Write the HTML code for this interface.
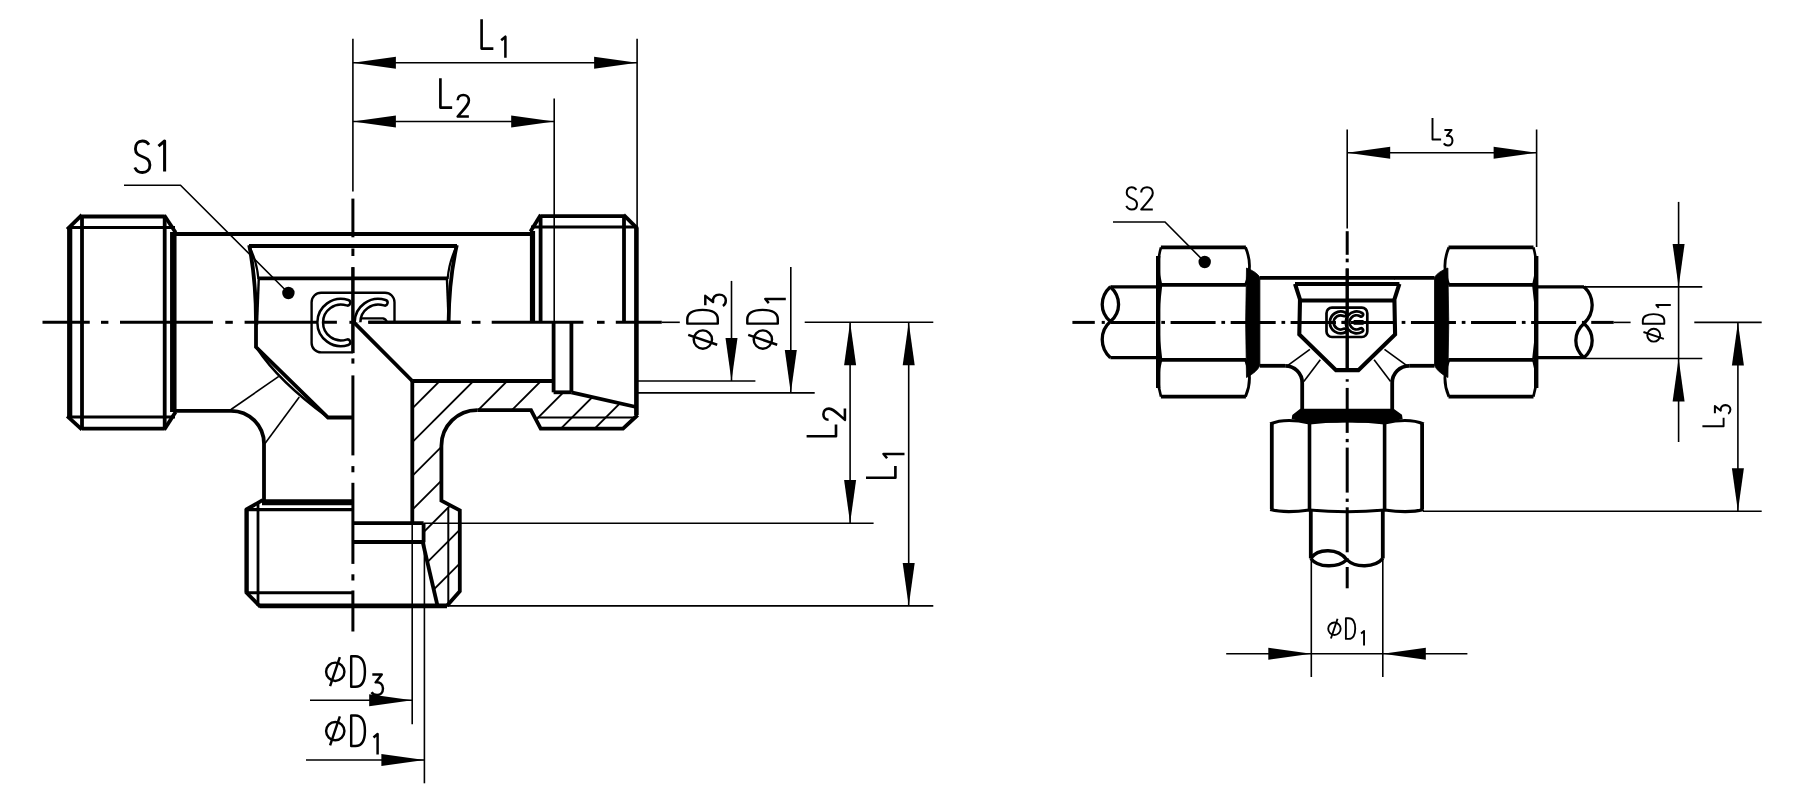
<!DOCTYPE html>
<html><head><meta charset="utf-8"><title>T-fitting drawing</title>
<style>html,body{margin:0;padding:0;background:#fff;}body{width:1804px;height:804px;overflow:hidden;font-family:"Liberation Sans",sans-serif;}svg{display:block;}</style>
</head><body>
<svg width="1804" height="804" viewBox="0 0 1804 804" fill="none" stroke="#000"><line x1="42.5" y1="322.3" x2="89.75" y2="322.3" stroke-width="3" stroke-linecap="butt"/>
<line x1="101" y1="322.3" x2="108.4" y2="322.3" stroke-width="3" stroke-linecap="butt"/>
<line x1="120" y1="322.3" x2="212.9" y2="322.3" stroke-width="3" stroke-linecap="butt"/>
<line x1="225.3" y1="322.3" x2="232.8" y2="322.3" stroke-width="3" stroke-linecap="butt"/>
<line x1="244.6" y1="322.3" x2="336.9" y2="322.3" stroke-width="3" stroke-linecap="butt"/>
<line x1="349.4" y1="322.3" x2="353" y2="322.3" stroke-width="3" stroke-linecap="butt"/>
<line x1="368.3" y1="322.3" x2="460.6" y2="322.3" stroke-width="3" stroke-linecap="butt"/>
<line x1="471.8" y1="322.3" x2="480.5" y2="322.3" stroke-width="3" stroke-linecap="butt"/>
<line x1="491.7" y1="322.3" x2="583.4" y2="322.3" stroke-width="3" stroke-linecap="butt"/>
<line x1="597" y1="322.3" x2="604.6" y2="322.3" stroke-width="3" stroke-linecap="butt"/>
<line x1="615.8" y1="322.3" x2="661.8" y2="322.3" stroke-width="3" stroke-linecap="butt"/>
<line x1="661.8" y1="322.3" x2="679.8" y2="322.3" stroke-width="1.6" stroke-linecap="butt"/>
<line x1="352.9" y1="198.6" x2="352.9" y2="237.3" stroke-width="3" stroke-linecap="butt"/>
<line x1="352.9" y1="248.5" x2="352.9" y2="256" stroke-width="3" stroke-linecap="butt"/>
<line x1="352.9" y1="267.2" x2="352.9" y2="353.1" stroke-width="3" stroke-linecap="butt"/>
<line x1="352.9" y1="358.4" x2="352.9" y2="363.6" stroke-width="3" stroke-linecap="butt"/>
<line x1="352.9" y1="375.4" x2="352.9" y2="455.4" stroke-width="3" stroke-linecap="butt"/>
<line x1="352.9" y1="466.1" x2="352.9" y2="472.3" stroke-width="3" stroke-linecap="butt"/>
<line x1="352.9" y1="482.8" x2="352.9" y2="563.9" stroke-width="3" stroke-linecap="butt"/>
<line x1="352.9" y1="574.3" x2="352.9" y2="580.5" stroke-width="3" stroke-linecap="butt"/>
<line x1="352.9" y1="590.5" x2="352.9" y2="631.5" stroke-width="3" stroke-linecap="butt"/>
<line x1="69.7" y1="229" x2="69.7" y2="417" stroke-width="5.2" stroke-linecap="butt"/>
<line x1="82" y1="216" x2="82" y2="429" stroke-width="3.8" stroke-linecap="butt"/>
<line x1="82" y1="216.5" x2="164.7" y2="216.5" stroke-width="3.8" stroke-linecap="butt"/>
<line x1="69" y1="227.5" x2="175" y2="227.5" stroke-width="3" stroke-linecap="butt"/>
<line x1="82" y1="428.6" x2="164.7" y2="428.6" stroke-width="3.8" stroke-linecap="butt"/>
<line x1="69" y1="417" x2="175" y2="417" stroke-width="3" stroke-linecap="butt"/>
<line x1="164.7" y1="216" x2="164.7" y2="429" stroke-width="3.8" stroke-linecap="butt"/>
<line x1="173.3" y1="232" x2="173.3" y2="412" stroke-width="6.5" stroke-linecap="butt"/>
<path d="M67.2,229.4 L82,214.8" stroke-width="3.8" stroke-linejoin="miter"/>
<path d="M67.2,416.2 L82,429.6" stroke-width="3.8" stroke-linejoin="miter"/>
<path d="M164.2,215.2 L175.6,232.5" stroke-width="3.8" stroke-linejoin="miter"/>
<path d="M164.2,429.6 L175.6,412" stroke-width="3.8" stroke-linejoin="miter"/>
<line x1="175" y1="234" x2="531" y2="234" stroke-width="3.8" stroke-linecap="butt"/>
<line x1="175" y1="410.8" x2="231" y2="410.8" stroke-width="3.8" stroke-linecap="butt"/>
<path d="M231,410.8 A33,33 0 0 1 264,443.8 L264,501" stroke-width="3.8" />
<line x1="231" y1="409.5" x2="278.8" y2="376.4" stroke-width="1.6" stroke-linecap="butt"/>
<line x1="265" y1="443.4" x2="299.3" y2="397" stroke-width="1.6" stroke-linecap="butt"/>
<line x1="249" y1="246" x2="457" y2="246" stroke-width="3.8" stroke-linecap="butt"/>
<line x1="258.2" y1="278.3" x2="447" y2="278.3" stroke-width="3.8" stroke-linecap="butt"/>
<path d="M249.2,245.2 Q256,280 256,322 L256,347 L328,417.5 L353,417.5" stroke-width="3.8" stroke-linejoin="miter"/>
<path d="M249.6,247 Q257,262 258.4,279" stroke-width="2.2" />
<path d="M256.8,348 Q278.4,381.1 327.5,417" stroke-width="2.4" />
<line x1="258.8" y1="278" x2="257" y2="325" stroke-width="2.4" stroke-linecap="butt"/>
<line x1="446.9" y1="278" x2="448.7" y2="322" stroke-width="2.4" stroke-linecap="butt"/>
<path d="M456.8,245.2 Q449,280 448.6,322.3" stroke-width="3.8" />
<path d="M456.3,247 Q449,262 447.6,279" stroke-width="2.2" />
<defs><clipPath id="ceclip"><path d="M300,280 L420,280 L420,322.3 L352.9,322.3 L352.9,360 L300,360 Z"/></clipPath></defs>
<g clip-path="url(#ceclip)">
<rect x="311.6" y="292.7" width="82.9" height="59.7" rx="9.5" ry="9.5" stroke-width="2.4"/>
<path d="M347.43,302.72 A20.8,20.8 0 1 0 347.43,342.28" stroke-width="8.2" stroke-linecap="round"/>
<path d="M347.43,302.72 A20.8,20.8 0 1 0 347.43,342.28" stroke="#fff" stroke-width="3.2" stroke-linecap="round"/>
<path d="M384.73,302.72 A20.8,20.8 0 1 0 384.73,342.28" stroke-width="8.2" stroke-linecap="round"/>
<path d="M384.73,302.72 A20.8,20.8 0 1 0 384.73,342.28" stroke="#fff" stroke-width="3.2" stroke-linecap="round"/>
</g>
<path d="M362,318.3 L383,318.3 Q386,319 387,322.3" stroke-width="2.3" />
<line x1="368.3" y1="322.3" x2="460.6" y2="322.3" stroke-width="3" stroke-linecap="butt"/>
<line x1="352.9" y1="267.2" x2="352.9" y2="353.1" stroke-width="3" stroke-linecap="butt"/>
<line x1="353.9" y1="322.4" x2="412.3" y2="381" stroke-width="3.8" stroke-linecap="butt"/>
<line x1="553.6" y1="322.3" x2="553.6" y2="392.3" stroke-width="3.8" stroke-linecap="butt"/>
<line x1="571.4" y1="322.3" x2="571.4" y2="392.3" stroke-width="3.8" stroke-linecap="butt"/>
<line x1="553.6" y1="392.3" x2="571.4" y2="392.3" stroke-width="3.8" stroke-linecap="butt"/>
<line x1="412.3" y1="381" x2="553.6" y2="381" stroke-width="3.8" stroke-linecap="butt"/>
<line x1="571.4" y1="392.3" x2="636.2" y2="407" stroke-width="3.8" stroke-linecap="butt"/>
<line x1="532.5" y1="231" x2="532.5" y2="322.3" stroke-width="5.2" stroke-linecap="butt"/>
<line x1="540.6" y1="216" x2="540.6" y2="322.3" stroke-width="3.8" stroke-linecap="butt"/>
<line x1="540.6" y1="216.2" x2="624" y2="216.2" stroke-width="3.8" stroke-linecap="butt"/>
<line x1="531" y1="227" x2="637" y2="227" stroke-width="3" stroke-linecap="butt"/>
<path d="M530.5,231.5 L540.8,214.8" stroke-width="3.8" stroke-linejoin="miter"/>
<path d="M623.6,214.8 L637.5,228.6" stroke-width="3.8" stroke-linejoin="miter"/>
<line x1="624" y1="216" x2="624" y2="322.3" stroke-width="3.8" stroke-linecap="butt"/>
<line x1="636.4" y1="228" x2="636.4" y2="415" stroke-width="4.6" stroke-linecap="butt"/>
<path d="M637.7,415 L623,428.6 L540.7,428.6 L531,410.1 L477.6,410.1" stroke-width="3.8" stroke-linejoin="miter"/>
<path d="M477.6,410.1 A35.8,35.8 0 0 0 441.4,445.9 L441.4,500.7 L459.8,510.4 L459.8,591.2 L447,605.8" stroke-width="3.8" stroke-linejoin="miter"/>
<line x1="259.9" y1="605.9" x2="447" y2="605.9" stroke-width="4.6" stroke-linecap="butt"/>
<line x1="412.3" y1="381" x2="412.3" y2="523.2" stroke-width="3.8" stroke-linecap="butt"/>
<line x1="352.9" y1="523.2" x2="423.6" y2="523.2" stroke-width="3.8" stroke-linecap="butt"/>
<line x1="352.9" y1="542" x2="423.6" y2="542" stroke-width="3.8" stroke-linecap="butt"/>
<line x1="423.6" y1="523.2" x2="423.6" y2="542" stroke-width="3.8" stroke-linecap="butt"/>
<line x1="422.7" y1="542" x2="437.5" y2="605.8" stroke-width="3.8" stroke-linecap="butt"/>
<line x1="537.5" y1="417.6" x2="636.4" y2="417.6" stroke-width="2" stroke-linecap="butt"/>
<line x1="448.3" y1="507.4" x2="448.3" y2="605.8" stroke-width="2" stroke-linecap="butt"/>
<defs><clipPath id="secclip"><path d="M412.3,381 L553.6,381 L553.6,392.3 L571.4,392.3 L636.2,407 L637.7,415 L623,428.6 L540.7,428.6 L531,410.1 L477.6,410.1 A35.8,35.8 0 0 0 441.4,445.9 L441.4,500.7 L459.8,510.4 L459.8,591.2 L447,605.8 L437.5,605.8 L422.7,542 L423.6,542 L423.6,523.2 L412.3,523.2 Z"/></clipPath></defs>
<g clip-path="url(#secclip)">
<line x1="380" y1="339.5" x2="680" y2="39.5" stroke-width="1.9" stroke-linecap="butt"/>
<line x1="380" y1="373.25" x2="680" y2="73.25" stroke-width="1.9" stroke-linecap="butt"/>
<line x1="380" y1="407" x2="680" y2="107" stroke-width="1.9" stroke-linecap="butt"/>
<line x1="380" y1="440.75" x2="680" y2="140.75" stroke-width="1.9" stroke-linecap="butt"/>
<line x1="380" y1="474.5" x2="680" y2="174.5" stroke-width="1.9" stroke-linecap="butt"/>
<line x1="380" y1="508.25" x2="680" y2="208.25" stroke-width="1.9" stroke-linecap="butt"/>
<line x1="380" y1="542" x2="680" y2="242" stroke-width="1.9" stroke-linecap="butt"/>
<line x1="380" y1="575.75" x2="680" y2="275.75" stroke-width="1.9" stroke-linecap="butt"/>
<line x1="380" y1="609.5" x2="680" y2="309.5" stroke-width="1.9" stroke-linecap="butt"/>
<line x1="380" y1="643.25" x2="680" y2="343.25" stroke-width="1.9" stroke-linecap="butt"/>
<line x1="380" y1="677" x2="680" y2="377" stroke-width="1.9" stroke-linecap="butt"/>
<line x1="380" y1="710.75" x2="680" y2="410.75" stroke-width="1.9" stroke-linecap="butt"/>
<line x1="380" y1="744.5" x2="680" y2="444.5" stroke-width="1.9" stroke-linecap="butt"/>
<line x1="380" y1="778.25" x2="680" y2="478.25" stroke-width="1.9" stroke-linecap="butt"/>
</g>
<line x1="246.6" y1="509" x2="246.6" y2="592.8" stroke-width="4.4" stroke-linecap="butt"/>
<line x1="258" y1="502" x2="258" y2="606" stroke-width="2.8" stroke-linecap="butt"/>
<line x1="262" y1="502.3" x2="352.9" y2="502.3" stroke-width="6" stroke-linecap="butt"/>
<line x1="246" y1="509.7" x2="352.9" y2="509.7" stroke-width="3.3" stroke-linecap="butt"/>
<path d="M245.5,510 L262.6,500.2" stroke-width="3.8" stroke-linejoin="miter"/>
<line x1="246" y1="592.8" x2="352.9" y2="592.8" stroke-width="3" stroke-linecap="butt"/>
<path d="M245.8,592 L260.5,606.8" stroke-width="3.8" stroke-linejoin="miter"/>
<line x1="352.9" y1="592.8" x2="352.9" y2="606" stroke-width="2" stroke-linecap="butt"/>
<line x1="352.9" y1="38.7" x2="352.9" y2="191.6" stroke-width="1.6" stroke-linecap="butt"/>
<line x1="637.1" y1="38.7" x2="637.1" y2="228" stroke-width="1.6" stroke-linecap="butt"/>
<line x1="352.9" y1="62.8" x2="637.1" y2="62.8" stroke-width="1.6" stroke-linecap="butt"/>
<path d="M352.9,62.8 L395.9,56.8 L395.9,68.8 Z" fill="#000" stroke="none"/>
<path d="M637.1,62.8 L594.1,68.8 L594.1,56.8 Z" fill="#000" stroke="none"/>
<line x1="554.2" y1="98.4" x2="554.2" y2="322.3" stroke-width="1.6" stroke-linecap="butt"/>
<line x1="352.9" y1="121.5" x2="554.2" y2="121.5" stroke-width="1.6" stroke-linecap="butt"/>
<path d="M352.9,121.5 L395.9,115.5 L395.9,127.5 Z" fill="#000" stroke="none"/>
<path d="M554.2,121.5 L511.2,127.5 L511.2,115.5 Z" fill="#000" stroke="none"/>
<line x1="731.5" y1="280.9" x2="731.5" y2="381" stroke-width="1.6" stroke-linecap="butt"/>
<path d="M731.5,381 L725.5,338 L737.5,338 Z" fill="#000" stroke="none"/>
<line x1="637" y1="381" x2="755.4" y2="381" stroke-width="1.6" stroke-linecap="butt"/>
<line x1="790.8" y1="267" x2="790.8" y2="392.9" stroke-width="1.6" stroke-linecap="butt"/>
<path d="M790.8,392.9 L784.8,349.9 L796.8,349.9 Z" fill="#000" stroke="none"/>
<line x1="637" y1="392.9" x2="814.7" y2="392.9" stroke-width="1.6" stroke-linecap="butt"/>
<line x1="804.7" y1="322.3" x2="933.3" y2="322.3" stroke-width="1.6" stroke-linecap="butt"/>
<line x1="850.1" y1="322.3" x2="850.1" y2="523.1" stroke-width="1.6" stroke-linecap="butt"/>
<path d="M850.1,322.3 L856.1,365.3 L844.1,365.3 Z" fill="#000" stroke="none"/>
<path d="M850.1,523.1 L844.1,480.1 L856.1,480.1 Z" fill="#000" stroke="none"/>
<line x1="423.6" y1="523.3" x2="873.6" y2="523.3" stroke-width="1.6" stroke-linecap="butt"/>
<line x1="908.7" y1="322.3" x2="908.7" y2="605.9" stroke-width="1.6" stroke-linecap="butt"/>
<path d="M908.7,322.3 L914.7,365.3 L902.7,365.3 Z" fill="#000" stroke="none"/>
<path d="M908.7,605.9 L902.7,562.9 L914.7,562.9 Z" fill="#000" stroke="none"/>
<line x1="447" y1="605.9" x2="933.3" y2="605.9" stroke-width="1.6" stroke-linecap="butt"/>
<line x1="412.2" y1="523" x2="412.2" y2="724.2" stroke-width="1.6" stroke-linecap="butt"/>
<line x1="310" y1="700.3" x2="412.2" y2="700.3" stroke-width="1.6" stroke-linecap="butt"/>
<path d="M412.2,700.3 L369.2,706.3 L369.2,694.3 Z" fill="#000" stroke="none"/>
<line x1="424.4" y1="542" x2="424.4" y2="783.3" stroke-width="1.6" stroke-linecap="butt"/>
<line x1="306" y1="760" x2="424.4" y2="760" stroke-width="1.6" stroke-linecap="butt"/>
<path d="M424.4,760 L381.4,766 L381.4,754 Z" fill="#000" stroke="none"/>
<path d="M124,185.2 L180.5,185.2 L288.4,293" stroke-width="1.6" stroke-linejoin="miter"/>
<circle cx="288.4" cy="293" r="6.2" fill="#000" stroke="none"/>
<path transform="translate(481.6,19.2) scale(29.4)" d="M0,0 L0,1 L0.4,1" stroke-width="0.09" stroke-linejoin="round"/>
<path transform="translate(501.2,36.7) scale(21)" d="M0.0,0.17 L0.2,0 L0.2,1" stroke-width="0.12" stroke-linejoin="round"/>
<path transform="translate(440.4,78.2) scale(29.4)" d="M0,0 L0,1 L0.4,1" stroke-width="0.09" stroke-linejoin="round"/>
<path transform="translate(457.7,95) scale(21.5)" d="M0.0,0.24 C0.0,0.08 0.12,0 0.26,0 C0.41,0 0.52,0.1 0.52,0.26 C0.52,0.44 0.38,0.55 0.0,1 L0.52,1" stroke-width="0.12" stroke-linejoin="round"/>
<path transform="translate(134.8,141) scale(31.5)" d="M0.45,0.12 C0.4,0.04 0.33,0 0.24,0 C0.1,0 0.02,0.1 0.02,0.25 C0.02,0.58 0.48,0.42 0.48,0.76 C0.48,0.91 0.38,1 0.24,1 C0.12,1 0.04,0.93 0.0,0.84" stroke-width="0.09" stroke-linejoin="round"/>
<path transform="translate(158.5,141) scale(30.5)" d="M0.0,0.17 L0.2,0 L0.2,1" stroke-width="0.1" stroke-linejoin="round"/>
<g transform="translate(325.2,656.2) scale(30.5)"><circle cx="0.33" cy="0.51" r="0.3" stroke-width="0.08"/><line x1="0.48" y1="0.03" x2="0.16" y2="0.98" stroke-width="0.08"/></g>
<path transform="translate(351.2,656.2) scale(30.5)" d="M0,0 L0,1 L0.14,1 C0.34,1 0.45,0.82 0.45,0.5 C0.45,0.18 0.34,0 0.14,0 Z" stroke-width="0.08" stroke-linejoin="round"/>
<path transform="translate(371.5,674.6) scale(20.5)" d="M0.04,0 L0.5,0 L0.2,0.38 C0.42,0.34 0.56,0.48 0.56,0.68 C0.56,0.88 0.43,1 0.27,1 C0.15,1 0.06,0.95 0.0,0.86" stroke-width="0.12" stroke-linejoin="round"/>
<g transform="translate(325.2,715.5) scale(30.5)"><circle cx="0.33" cy="0.51" r="0.3" stroke-width="0.08"/><line x1="0.48" y1="0.03" x2="0.16" y2="0.98" stroke-width="0.08"/></g>
<path transform="translate(351.2,715.5) scale(30.5)" d="M0,0 L0,1 L0.14,1 C0.34,1 0.45,0.82 0.45,0.5 C0.45,0.18 0.34,0 0.14,0 Z" stroke-width="0.08" stroke-linejoin="round"/>
<path transform="translate(373.5,734) scale(20.5)" d="M0.0,0.17 L0.2,0 L0.2,1" stroke-width="0.12" stroke-linejoin="round"/>
<g transform="translate(687.3,349.6) rotate(-90)">
<g transform="translate(0,0) scale(30.5)"><circle cx="0.33" cy="0.51" r="0.3" stroke-width="0.08"/><line x1="0.48" y1="0.03" x2="0.16" y2="0.98" stroke-width="0.08"/></g>
<path transform="translate(26,0) scale(30.5)" d="M0,0 L0,1 L0.14,1 C0.34,1 0.45,0.82 0.45,0.5 C0.45,0.18 0.34,0 0.14,0 Z" stroke-width="0.08" stroke-linejoin="round"/>
<path transform="translate(43.5,18) scale(20.5)" d="M0.04,0 L0.5,0 L0.2,0.38 C0.42,0.34 0.56,0.48 0.56,0.68 C0.56,0.88 0.43,1 0.27,1 C0.15,1 0.06,0.95 0.0,0.86" stroke-width="0.12" stroke-linejoin="round"/>
</g>
<g transform="translate(747.3,349.6) rotate(-90)">
<g transform="translate(0,0) scale(30.5)"><circle cx="0.33" cy="0.51" r="0.3" stroke-width="0.08"/><line x1="0.48" y1="0.03" x2="0.16" y2="0.98" stroke-width="0.08"/></g>
<path transform="translate(26,0) scale(30.5)" d="M0,0 L0,1 L0.14,1 C0.34,1 0.45,0.82 0.45,0.5 C0.45,0.18 0.34,0 0.14,0 Z" stroke-width="0.08" stroke-linejoin="round"/>
<path transform="translate(46.5,18) scale(20.5)" d="M0.0,0.17 L0.2,0 L0.2,1" stroke-width="0.12" stroke-linejoin="round"/>
</g>
<g transform="translate(806.6,436.3) rotate(-90)">
<path transform="translate(0,0) scale(29.4)" d="M0,0 L0,1 L0.4,1" stroke-width="0.09" stroke-linejoin="round"/>
<path transform="translate(16.5,16.8) scale(21.5)" d="M0.0,0.24 C0.0,0.08 0.12,0 0.26,0 C0.41,0 0.52,0.1 0.52,0.26 C0.52,0.44 0.38,0.55 0.0,1 L0.52,1" stroke-width="0.12" stroke-linejoin="round"/>
</g>
<g transform="translate(866,477.7) rotate(-90)">
<path transform="translate(0,0) scale(29.4)" d="M0,0 L0,1 L0.4,1" stroke-width="0.09" stroke-linejoin="round"/>
<path transform="translate(19.5,17.5) scale(21)" d="M0.0,0.17 L0.2,0 L0.2,1" stroke-width="0.12" stroke-linejoin="round"/>
</g>
<line x1="1072.4" y1="322.4" x2="1094.8" y2="322.4" stroke-width="3" stroke-linecap="butt"/>
<line x1="1101.7" y1="322.4" x2="1104.8" y2="322.4" stroke-width="3" stroke-linecap="butt"/>
<line x1="1110.5" y1="322.4" x2="1155.5" y2="322.4" stroke-width="3" stroke-linecap="butt"/>
<line x1="1161.3" y1="322.4" x2="1165" y2="322.4" stroke-width="3" stroke-linecap="butt"/>
<line x1="1170.59" y1="322.4" x2="1215.59" y2="322.4" stroke-width="3" stroke-linecap="butt"/>
<line x1="1221.39" y1="322.4" x2="1225.09" y2="322.4" stroke-width="3" stroke-linecap="butt"/>
<line x1="1230.68" y1="322.4" x2="1275.68" y2="322.4" stroke-width="3" stroke-linecap="butt"/>
<line x1="1281.48" y1="322.4" x2="1285.18" y2="322.4" stroke-width="3" stroke-linecap="butt"/>
<line x1="1290.77" y1="322.4" x2="1335.77" y2="322.4" stroke-width="3" stroke-linecap="butt"/>
<line x1="1341.57" y1="322.4" x2="1345.27" y2="322.4" stroke-width="3" stroke-linecap="butt"/>
<line x1="1350.86" y1="322.4" x2="1395.86" y2="322.4" stroke-width="3" stroke-linecap="butt"/>
<line x1="1401.66" y1="322.4" x2="1405.36" y2="322.4" stroke-width="3" stroke-linecap="butt"/>
<line x1="1410.95" y1="322.4" x2="1455.95" y2="322.4" stroke-width="3" stroke-linecap="butt"/>
<line x1="1461.75" y1="322.4" x2="1465.45" y2="322.4" stroke-width="3" stroke-linecap="butt"/>
<line x1="1471.04" y1="322.4" x2="1516.04" y2="322.4" stroke-width="3" stroke-linecap="butt"/>
<line x1="1521.84" y1="322.4" x2="1525.54" y2="322.4" stroke-width="3" stroke-linecap="butt"/>
<line x1="1531.13" y1="322.4" x2="1576.13" y2="322.4" stroke-width="3" stroke-linecap="butt"/>
<line x1="1581.93" y1="322.4" x2="1585.63" y2="322.4" stroke-width="3" stroke-linecap="butt"/>
<line x1="1591.22" y1="322.4" x2="1613.7" y2="322.4" stroke-width="3" stroke-linecap="butt"/>
<line x1="1613.7" y1="322.4" x2="1630.6" y2="322.4" stroke-width="1.6" stroke-linecap="butt"/>
<line x1="1347.2" y1="231.2" x2="1347.2" y2="254.8" stroke-width="3" stroke-linecap="butt"/>
<line x1="1347.2" y1="258.6" x2="1347.2" y2="262.3" stroke-width="3" stroke-linecap="butt"/>
<line x1="1347.2" y1="268.5" x2="1347.2" y2="371.7" stroke-width="3" stroke-linecap="butt"/>
<line x1="1347.2" y1="379.2" x2="1347.2" y2="381.7" stroke-width="3" stroke-linecap="butt"/>
<line x1="1347.2" y1="387.9" x2="1347.2" y2="432.9" stroke-width="3" stroke-linecap="butt"/>
<line x1="1347.2" y1="438.9" x2="1347.2" y2="442.2" stroke-width="3" stroke-linecap="butt"/>
<line x1="1347.2" y1="447.6" x2="1347.2" y2="492.6" stroke-width="3" stroke-linecap="butt"/>
<line x1="1347.2" y1="498.6" x2="1347.2" y2="501.9" stroke-width="3" stroke-linecap="butt"/>
<line x1="1347.2" y1="507.3" x2="1347.2" y2="552.3" stroke-width="3" stroke-linecap="butt"/>
<line x1="1347.2" y1="558.3" x2="1347.2" y2="561.6" stroke-width="3" stroke-linecap="butt"/>
<line x1="1347.2" y1="567" x2="1347.2" y2="588.3" stroke-width="3" stroke-linecap="butt"/>
<line x1="1347.2" y1="129.5" x2="1347.2" y2="228.4" stroke-width="1.6" stroke-linecap="butt"/>
<line x1="1110.4" y1="286.8" x2="1157" y2="286.8" stroke-width="3.2" stroke-linecap="butt"/>
<line x1="1110.4" y1="357.7" x2="1157" y2="357.7" stroke-width="3.2" stroke-linecap="butt"/>
<path d="M1110.4,286.8 C1099.5,297 1099.5,312 1110.4,321.6 C1121.3,312 1121.3,297 1110.4,286.8 M1110.4,321.6 C1099.5,331 1099.5,348 1110.4,357.7" stroke-width="3.3" stroke-linejoin="round"/>
<line x1="1584" y1="286.8" x2="1537.4" y2="286.8" stroke-width="3.2" stroke-linecap="butt"/>
<line x1="1584" y1="357.7" x2="1537.4" y2="357.7" stroke-width="3.2" stroke-linecap="butt"/>
<path d="M1584,357.7 C1594.9,348 1594.9,333 1584,323.5 C1573.1,333 1573.1,348 1584,357.7 M1584,323.5 C1594.9,313 1594.9,297 1584,286.8" stroke-width="3.3" stroke-linejoin="round"/>
<line x1="1160.9" y1="247.4" x2="1245.9" y2="247.4" stroke-width="3.8" stroke-linecap="butt"/>
<line x1="1160.9" y1="396.6" x2="1245.9" y2="396.6" stroke-width="3.8" stroke-linecap="butt"/>
<line x1="1160.9" y1="284.8" x2="1246" y2="284.8" stroke-width="3.8" stroke-linecap="butt"/>
<line x1="1160.9" y1="359.8" x2="1246" y2="359.8" stroke-width="3.8" stroke-linecap="butt"/>
<line x1="1158.2" y1="256" x2="1158.2" y2="388" stroke-width="4.4" stroke-linecap="butt"/>
<path d="M1161,247.4 Q1155.5,266.1 1161,284.8" stroke-width="2.6" />
<path d="M1161,284.8 Q1155.5,322.3 1161,359.8" stroke-width="2.6" />
<path d="M1161,359.8 Q1155.5,378.2 1161,396.6" stroke-width="2.6" />
<path d="M1245.5,247.4 Q1253.5,266.1 1245.5,284.8" stroke-width="2.8" />
<path d="M1245.5,359.8 Q1253.5,378.2 1245.5,396.6" stroke-width="2.8" />
<path d="M1246.5,268 Q1244.8,322.6 1246.5,377.5 Q1257,372 1259.9,365.5 L1259.9,277.5 Q1257,272 1246.5,268 Z" fill="#000" stroke-width="0.8"/>
<line x1="1259.9" y1="277.9" x2="1300" y2="277.9" stroke-width="3.8" stroke-linecap="butt"/>
<line x1="1259.9" y1="365.8" x2="1285.2" y2="365.8" stroke-width="3.8" stroke-linecap="butt"/>
<path d="M1285.2,365.8 A17,17 0 0 1 1302.2,382.8 L1302.2,412" stroke-width="3.8" />
<line x1="1287.2" y1="365.8" x2="1309.9" y2="349.3" stroke-width="1.6" stroke-linecap="butt"/>
<line x1="1303.8" y1="381.5" x2="1320.3" y2="359.7" stroke-width="1.6" stroke-linecap="butt"/>
<line x1="1533.5" y1="247.4" x2="1448.5" y2="247.4" stroke-width="3.8" stroke-linecap="butt"/>
<line x1="1533.5" y1="396.6" x2="1448.5" y2="396.6" stroke-width="3.8" stroke-linecap="butt"/>
<line x1="1533.5" y1="284.8" x2="1448.4" y2="284.8" stroke-width="3.8" stroke-linecap="butt"/>
<line x1="1533.5" y1="359.8" x2="1448.4" y2="359.8" stroke-width="3.8" stroke-linecap="butt"/>
<line x1="1536.2" y1="256" x2="1536.2" y2="388" stroke-width="4.4" stroke-linecap="butt"/>
<path d="M1533.4,247.4 Q1538.9,266.1 1533.4,284.8" stroke-width="2.6" />
<path d="M1533.4,284.8 Q1538.9,322.3 1533.4,359.8" stroke-width="2.6" />
<path d="M1533.4,359.8 Q1538.9,378.2 1533.4,396.6" stroke-width="2.6" />
<path d="M1448.9,247.4 Q1440.9,266.1 1448.9,284.8" stroke-width="2.8" />
<path d="M1448.9,359.8 Q1440.9,378.2 1448.9,396.6" stroke-width="2.8" />
<path d="M1447.9,268 Q1449.6,322.6 1447.9,377.5 Q1437.4,372 1434.5,365.5 L1434.5,277.5 Q1437.4,272 1447.9,268 Z" fill="#000" stroke-width="0.8"/>
<line x1="1434.5" y1="277.9" x2="1394.4" y2="277.9" stroke-width="3.8" stroke-linecap="butt"/>
<line x1="1434.5" y1="365.8" x2="1409.2" y2="365.8" stroke-width="3.8" stroke-linecap="butt"/>
<path d="M1409.2,365.8 A17,17 0 0 0 1392.2,382.8 L1392.2,412" stroke-width="3.8" />
<line x1="1407.2" y1="365.8" x2="1384.5" y2="349.3" stroke-width="1.6" stroke-linecap="butt"/>
<line x1="1390.6" y1="381.5" x2="1374.1" y2="359.7" stroke-width="1.6" stroke-linecap="butt"/>
<line x1="1300" y1="277.9" x2="1395" y2="277.9" stroke-width="3.8" stroke-linecap="butt"/>
<path d="M1295,284 L1399.4,284" stroke-width="3.8" />
<path d="M1301.2,300.5 L1393.2,300.5" stroke-width="3.8" />
<path d="M1295,283.8 L1300,299.5 L1299.3,334.5 L1336,370.1 L1358.4,370.1 L1395.1,334.5 L1394.4,299.5 L1399.4,283.8" stroke-width="4.1" stroke-linejoin="miter"/>
<rect x="1326.5" y="307.7" width="40.8" height="29.3" rx="5.5" ry="5.5" stroke-width="2.7"/>
<path d="M1344.46,314.18 A9,9 0 1 0 1344.46,330.62" stroke-width="6.6" stroke-linecap="round"/>
<path d="M1344.46,314.18 A9,9 0 1 0 1344.46,330.62" stroke="#fff" stroke-width="1.1" stroke-linecap="round"/>
<path d="M1361.1,314.61 A9,9 0 1 0 1361.1,330.19" stroke-width="6.6" stroke-linecap="round"/>
<path d="M1361.1,314.61 A9,9 0 1 0 1361.1,330.19" stroke="#fff" stroke-width="1.1" stroke-linecap="round"/>
<rect x="1353.6" y="320" width="10" height="4.8" fill="#000" stroke="none"/>
<line x1="1347.2" y1="268.5" x2="1347.2" y2="371.7" stroke-width="3" stroke-linecap="butt"/>
<line x1="1290.8" y1="322.4" x2="1335.8" y2="322.4" stroke-width="3" stroke-linecap="butt"/>
<line x1="1341.6" y1="322.4" x2="1345.3" y2="322.4" stroke-width="3" stroke-linecap="butt"/>
<path d="M1300.5,409.6 L1393.4,409.6 L1401.3,415.3 L1401.8,418.5 Q1385,423.5 1347.4,421.5 Q1310,423.5 1292.5,418.5 L1293,415.3 Z" fill="#000" stroke-width="1.5"/>
<line x1="1271.8" y1="424" x2="1271.8" y2="509" stroke-width="3.8" stroke-linecap="butt"/>
<line x1="1309.5" y1="424" x2="1309.5" y2="509" stroke-width="3.6" stroke-linecap="butt"/>
<line x1="1384.6" y1="424" x2="1384.6" y2="509" stroke-width="3.6" stroke-linecap="butt"/>
<line x1="1422.1" y1="424" x2="1422.1" y2="509" stroke-width="3.8" stroke-linecap="butt"/>
<path d="M1270.2,424 Q1285,417.5 1309.5,423 Q1347,418.5 1384.6,423 Q1409,417.5 1423.7,424" stroke-width="3.2" />
<path d="M1270.2,509.5 Q1285,513.5 1309.5,510 Q1347,513.5 1384.6,510 Q1409,513.5 1423.7,509.5" stroke-width="3.2" />
<line x1="1310.8" y1="510" x2="1310.8" y2="558.4" stroke-width="3.8" stroke-linecap="butt"/>
<line x1="1382.8" y1="510" x2="1382.8" y2="558.4" stroke-width="3.8" stroke-linecap="butt"/>
<path d="M1310.8,558.4 C1318,548 1338,548 1346.8,559.7 C1338,568 1318,568 1310.8,558.4 M1346.8,559.7 C1355,568 1375,568 1382.8,558.4" stroke-width="3.3" stroke-linejoin="round"/>
<line x1="1536.6" y1="129.5" x2="1536.6" y2="247" stroke-width="1.6" stroke-linecap="butt"/>
<line x1="1347.2" y1="152.7" x2="1536.6" y2="152.7" stroke-width="1.6" stroke-linecap="butt"/>
<path d="M1347.2,152.7 L1390.2,146.7 L1390.2,158.7 Z" fill="#000" stroke="none"/>
<path d="M1536.6,152.7 L1493.6,158.7 L1493.6,146.7 Z" fill="#000" stroke="none"/>
<line x1="1584" y1="286.9" x2="1702.3" y2="286.9" stroke-width="1.6" stroke-linecap="butt"/>
<line x1="1584" y1="358.5" x2="1702.3" y2="358.5" stroke-width="1.6" stroke-linecap="butt"/>
<line x1="1678.6" y1="201.9" x2="1678.6" y2="442" stroke-width="1.6" stroke-linecap="butt"/>
<path d="M1678.6,286.9 L1672.6,243.9 L1684.6,243.9 Z" fill="#000" stroke="none"/>
<path d="M1678.6,358.5 L1684.6,401.5 L1672.6,401.5 Z" fill="#000" stroke="none"/>
<line x1="1694.3" y1="322.4" x2="1761.7" y2="322.4" stroke-width="1.6" stroke-linecap="butt"/>
<line x1="1422.9" y1="511.2" x2="1761.7" y2="511.2" stroke-width="1.6" stroke-linecap="butt"/>
<line x1="1737.9" y1="322.4" x2="1737.9" y2="511.2" stroke-width="1.6" stroke-linecap="butt"/>
<path d="M1737.9,322.4 L1743.9,365.4 L1731.9,365.4 Z" fill="#000" stroke="none"/>
<path d="M1737.9,511.2 L1731.9,468.2 L1743.9,468.2 Z" fill="#000" stroke="none"/>
<line x1="1311.3" y1="558" x2="1311.3" y2="677" stroke-width="1.6" stroke-linecap="butt"/>
<line x1="1382.8" y1="558" x2="1382.8" y2="677" stroke-width="1.6" stroke-linecap="butt"/>
<line x1="1226.2" y1="653.7" x2="1467.4" y2="653.7" stroke-width="1.6" stroke-linecap="butt"/>
<path d="M1311.3,653.7 L1268.3,659.7 L1268.3,647.7 Z" fill="#000" stroke="none"/>
<path d="M1382.8,653.7 L1425.8,647.7 L1425.8,659.7 Z" fill="#000" stroke="none"/>
<path d="M1113,222 L1165,222 L1204.7,262" stroke-width="1.6" stroke-linejoin="miter"/>
<circle cx="1204.7" cy="262" r="6.2" fill="#000" stroke="none"/>
<path transform="translate(1126.3,187.2) scale(22.3)" d="M0.45,0.12 C0.4,0.04 0.33,0 0.24,0 C0.1,0 0.02,0.1 0.02,0.25 C0.02,0.58 0.48,0.42 0.48,0.76 C0.48,0.91 0.38,1 0.24,1 C0.12,1 0.04,0.93 0.0,0.84" stroke-width="0.09" stroke-linejoin="round"/>
<path transform="translate(1141.2,187.2) scale(22.3)" d="M0.0,0.24 C0.0,0.08 0.12,0 0.26,0 C0.41,0 0.52,0.1 0.52,0.26 C0.52,0.44 0.38,0.55 0.0,1 L0.52,1" stroke-width="0.09" stroke-linejoin="round"/>
<path transform="translate(1432.5,118) scale(21.5)" d="M0,0 L0,1 L0.4,1" stroke-width="0.09" stroke-linejoin="round"/>
<path transform="translate(1443.8,130) scale(15.5)" d="M0.04,0 L0.5,0 L0.2,0.38 C0.42,0.34 0.56,0.48 0.56,0.68 C0.56,0.88 0.43,1 0.27,1 C0.15,1 0.06,0.95 0.0,0.86" stroke-width="0.13" stroke-linejoin="round"/>
<g transform="translate(1327.6,618.2) scale(20.7)"><circle cx="0.33" cy="0.51" r="0.3" stroke-width="0.09"/><line x1="0.48" y1="0.03" x2="0.16" y2="0.98" stroke-width="0.09"/></g>
<path transform="translate(1345.9,618.2) scale(20.7)" d="M0,0 L0,1 L0.14,1 C0.34,1 0.45,0.82 0.45,0.5 C0.45,0.18 0.34,0 0.14,0 Z" stroke-width="0.09" stroke-linejoin="round"/>
<path transform="translate(1361.1,630.9) scale(14.7)" d="M0.0,0.17 L0.2,0 L0.2,1" stroke-width="0.13" stroke-linejoin="round"/>
<g transform="translate(1642.8,342.3) rotate(-90)">
<g transform="translate(0,0) scale(21.5)"><circle cx="0.33" cy="0.51" r="0.3" stroke-width="0.09"/><line x1="0.48" y1="0.03" x2="0.16" y2="0.98" stroke-width="0.09"/></g>
<path transform="translate(18.5,0) scale(21.5)" d="M0,0 L0,1 L0.14,1 C0.34,1 0.45,0.82 0.45,0.5 C0.45,0.18 0.34,0 0.14,0 Z" stroke-width="0.09" stroke-linejoin="round"/>
<path transform="translate(34.5,13.5) scale(14.5)" d="M0.0,0.17 L0.2,0 L0.2,1" stroke-width="0.14" stroke-linejoin="round"/>
</g>
<g transform="translate(1702.4,426.3) rotate(-90)">
<path transform="translate(0,0) scale(21.2)" d="M0,0 L0,1 L0.4,1" stroke-width="0.09" stroke-linejoin="round"/>
<path transform="translate(12.5,12.5) scale(15.5)" d="M0.04,0 L0.5,0 L0.2,0.38 C0.42,0.34 0.56,0.48 0.56,0.68 C0.56,0.88 0.43,1 0.27,1 C0.15,1 0.06,0.95 0.0,0.86" stroke-width="0.13" stroke-linejoin="round"/>
</g></svg>
</body></html>
